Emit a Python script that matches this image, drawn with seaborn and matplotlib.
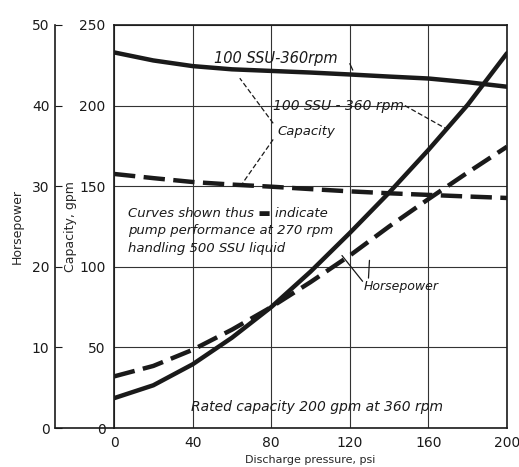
import matplotlib
matplotlib.use("Agg")
import matplotlib.pyplot as plt
import seaborn as sns
import pandas as pd

sns.set_style("white")
plt.rcParams['font.family'] = ['DejaVu Sans']

# discharge pressure, psi
pressure = [0, 20, 40, 60, 80, 100, 120, 140, 160, 180, 200]
# capacity, gpm
cap_100ssu = [233, 228, 224.5, 222.5, 221.5, 220.5, 219.3, 218, 216.8, 214.5, 211.7]
cap_500ssu = [157.6, 155, 152.6, 151, 149.7, 148.2, 146.8, 145.6, 144.6, 143.6, 142.7]
# horsepower
hp_100ssu = [3.7, 5.3, 7.9, 11.2, 15.0, 19.4, 24.2, 29.2, 34.5, 40.1, 46.5]
hp_500ssu = [6.4, 7.7, 9.7, 12.2, 15.0, 18.1, 21.4, 25.0, 28.4, 31.7, 34.9]

df = pd.DataFrame({"pressure": pressure, "cap100": cap_100ssu, "cap500": cap_500ssu,
                   "hp100": hp_100ssu, "hp500": hp_500ssu})

fig = plt.figure(figsize=(5.19, 4.67), dpi=100)
ax = fig.add_axes([0.2197, 0.0835, 0.7572, 0.863])
ax2 = ax.twinx()

ink = "#1a1a1a"
lw = 3.2
dash = (0, (4.8, 1.9))
sns.lineplot(data=df, x="pressure", y="cap100", ax=ax, color=ink, lw=lw)
sns.lineplot(data=df, x="pressure", y="cap500", ax=ax, color=ink, lw=lw, linestyle=dash)
sns.lineplot(data=df, x="pressure", y="hp100", ax=ax2, color=ink, lw=lw)
sns.lineplot(data=df, x="pressure", y="hp500", ax=ax2, color=ink, lw=lw, linestyle=dash)

ax.set_xlim(0, 200)
ax.set_ylim(0, 250)
ax2.set_ylim(0, 50)
ax.set_xticks([0, 40, 80, 120, 160, 200])
ax.set_yticks([0, 50, 100, 150, 200, 250])
ax2.set_yticks([0, 10, 20, 30, 40, 50])
ax.grid(True, color="#333333", lw=0.8)
for s in ax.spines.values():
    s.set_color(ink)
    s.set_linewidth(1.2)
ax.tick_params(axis="both", labelsize=10, colors=ink, length=0, pad=6)

# horsepower axis out on the left
ax2.spines["left"].set_position(("axes", -0.15))
ax2.spines["left"].set_visible(True)
ax2.spines["left"].set_color(ink)
ax2.spines["left"].set_linewidth(1.2)
for k in ["right", "top", "bottom"]:
    ax2.spines[k].set_visible(False)
ax2.yaxis.set_ticks_position("left")
ax2.yaxis.set_label_position("left")
ax2.tick_params(axis="y", direction="in", length=5, labelsize=10, colors=ink, pad=4)
ax.plot([-0.15, 0], [0, 0], transform=ax.transAxes, clip_on=False, color=ink, lw=1.2)

ax.set_xlabel("Discharge pressure, psi", fontsize=8, labelpad=3)
ax.set_ylabel("Capacity, gpm", fontsize=9, labelpad=2)
ax2.set_ylabel("Horsepower", fontsize=9, labelpad=6)

tk = dict(style="italic", color=ink)
ax.text(51, 229.5, "100 SSU-360rpm", va="center", ha="left", fontsize=10.5, **tk)
ax.text(81, 200, "100 SSU - 360 rpm", va="center", ha="left", fontsize=10, **tk)
ax.text(83, 184, "Capacity", va="center", ha="left", fontsize=9.5, **tk)
ax.text(7, 122.5, "Curves shown thus \u25ac indicate\npump performance at 270 rpm\nhandling 500 SSU liquid",
        va="center", ha="left", linespacing=1.45, fontsize=9.5, **tk)
ax.text(127, 88, "Horsepower", va="center", ha="left", fontsize=9, **tk)
ax.text(39, 13, "Rated capacity 200 gpm at 360 rpm", va="center", ha="left", fontsize=10, **tk)

# leader lines
lk = dict(color=ink, lw=0.9, ls=(0, (4, 2)))
ax.plot([81, 64], [189, 217], **lk)
ax.plot([81, 65.5], [179, 152], **lk)
ax.plot([148, 168.5], [200, 186], **lk)
ax.plot([126.5, 116], [91, 107], color=ink, lw=0.9)
ax.plot([129.5, 130], [93, 104], color=ink, lw=0.9)
ax.plot([120, 121.5], [226, 222], color=ink, lw=0.9)

fig.savefig("out.png", dpi=100)
